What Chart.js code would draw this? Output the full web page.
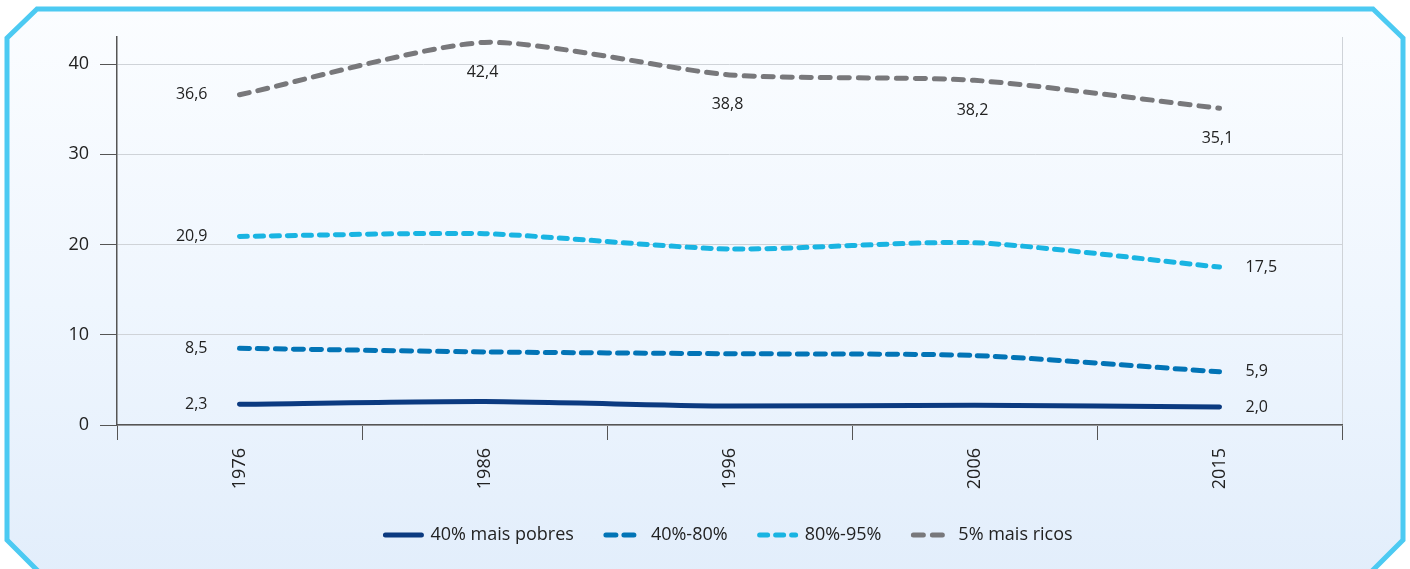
<!DOCTYPE html>
<html>
<head>
<meta charset="utf-8">
<script src="https://cdn.jsdelivr.net/npm/chart.js@4/dist/chart.umd.min.js"></script>
<style>
  html, body { margin: 0; padding: 0; background: #fff; }
  #wrap { position: relative; width: 1410px; height: 569px; overflow: hidden; }
  #frame { position: absolute; left: 0; top: 0; }
  #chart { position: absolute; left: 0; top: 0; }
</style>
</head>
<body>
<div id="wrap">
  <svg id="frame" width="1410" height="569">
    <defs>
      <linearGradient id="bg" x1="0" y1="0" x2="0" y2="1">
        <stop offset="0" stop-color="#fbfdff"/>
        <stop offset="0.5" stop-color="#eff6fe"/>
        <stop offset="1" stop-color="#e1edfb"/>
      </linearGradient>
    </defs>
    <polygon points="7,38 37,9 1373,9 1403,38 1403,540 1344,599 66,599 7,540"
             fill="url(#bg)" stroke="#4ccaf2" stroke-width="5" stroke-linejoin="miter"/>
  </svg>
  <canvas id="chart" width="1410" height="569"></canvas>
</div>
<script>
var years = ['1976', '1986', '1996', '2006', '2015'];
var seriesNames = ['40% mais pobres', '40%-80%', '80%-95%', '5% mais ricos'];
var pobres40 = [2.3, 2.6, 2.1, 2.2, 2.0];
var meio40a80 = [8.5, 8.1, 7.9, 7.7, 5.9];
var alto80a95 = [20.9, 21.2, 19.5, 20.2, 17.5];
var ricos5 = [36.6, 42.4, 38.8, 38.2, 35.1];
var yTicks = [0, 10, 20, 30, 40];

var FONT = "'Open Sans', 'Noto Sans', sans-serif";

// which points carry a value label, and where it sits
function labelSpots(n, all) {
    var spots = {};
    spots[0] = 'left';
    spots[n - 1] = all ? 'below' : 'right';
    if (all) {
        for (var i = 1; i < n; i++) spots[i] = 'below';
    }
    return spots;
}

var valueLabels = {
    id: 'valueLabels',
    afterDatasetsDraw: function (chart) {
        var ctx = chart.ctx;
        ctx.save();
        ctx.font = '16px ' + FONT;
        ctx.fillStyle = '#222';
        ctx.textBaseline = 'middle';
        chart.data.datasets.forEach(function (ds, di) {
            var meta = chart.getDatasetMeta(di);
            var spots = labelSpots(ds.data.length, ds.labelAll);
            meta.data.forEach(function (pt, i) {
                var where = spots[i];
                if (!where) return;
                var txt = ds.data[i].toFixed(1).replace('.', ',');
                if (where === 'left') {
                    ctx.textAlign = 'right';
                    ctx.fillText(txt, pt.x - 32, pt.y);
                } else if (where === 'right') {
                    ctx.textAlign = 'left';
                    ctx.fillText(txt, pt.x + 26, pt.y);
                } else {
                    ctx.textAlign = 'center';
                    ctx.fillText(txt, pt.x - 2, pt.y + 30);
                }
            });
        });
        ctx.restore();
    }
};

function makeSet(label, data, color, dash, labelAll) {
    return {
        label: label,
        data: data,
        borderColor: color,
        backgroundColor: color,
        borderWidth: 5,
        borderDash: dash,
        borderCapStyle: 'round',
        borderJoinStyle: 'round',
        pointRadius: 0,
        pointHoverRadius: 0,
        tension: 0.22,
        fill: false,
        labelAll: labelAll
    };
}

var ctx = document.getElementById('chart').getContext('2d');
new Chart(ctx, {
    type: 'line',
    data: {
        labels: years,
        datasets: [
            makeSet(seriesNames[0], pobres40, '#0b3a80', [], false),
            makeSet(seriesNames[1], meio40a80, '#0274b6', [10, 8], false),
            makeSet(seriesNames[2], alto80a95, '#19b4e2', [8, 8], false),
            makeSet(seriesNames[3], ricos5, '#78787b', [10, 9], true)
        ]
    },
    plugins: [valueLabels],
    options: {
        responsive: false,
        animation: false,
        events: [],
        layout: { padding: { left: 48, right: 0, top: 37, bottom: 15 } },
        plugins: {
            tooltip: { enabled: false },
            legend: {
                position: 'bottom',
                labels: {
                    usePointStyle: true,
                    pointStyle: 'line',
                    pointStyleWidth: 36,
                    padding: 32,
                    color: '#222',
                    font: { family: FONT, size: 18 },
                    generateLabels: function (chart) {
                        var items = Chart.defaults.plugins.legend.labels.generateLabels(chart);
                        items.forEach(function (it) {
                            var ds = chart.data.datasets[it.datasetIndex];
                            it.lineDash = ds.borderDash;
                            it.lineCap = 'round';
                            it.lineWidth = ds.borderWidth;
                            it.strokeStyle = ds.borderColor;
                        });
                        return items;
                    }
                }
            }
        },
        scales: {
            x: {
                offset: true,
                grid: {
                    offset: true,
                    drawOnChartArea: true,
                    color: function (c) { return c.type === 'scale' ? '#cfd3d8' : 'rgba(0,0,0,0)'; },
                    tickColor: '#555',
                    tickLength: 15,
                    lineWidth: 1
                },
                border: { color: '#555', width: 1.5 },
                ticks: {
                    minRotation: 90,
                    maxRotation: 90,
                    padding: 8,
                    color: '#222',
                    font: { family: FONT, size: 18 }
                },
                afterFit: function (scale) { scale.height = 69; }
            },
            y: {
                min: 0,
                max: 43,
                grid: {
                    color: '#cfd3d8',
                    tickColor: '#555',
                    tickLength: 17,
                    lineWidth: 1
                },
                border: { color: '#555', width: 1.5 },
                ticks: {
                    padding: 11,
                    color: '#222',
                    font: { family: FONT, size: 18 }
                },
                afterBuildTicks: function (scale) {
                    scale.ticks = yTicks.map(function (v) { return { value: v }; });
                },
                afterFit: function (scale) { scale.width = 69; }
            },
            // empty spacer on the right so the legend centres under the plot
            yRight: {
                position: 'right',
                display: true,
                grid: { drawOnChartArea: false, drawTicks: false },
                border: { display: false },
                ticks: { display: false },
                afterFit: function (scale) { scale.width = 68; }
            }
        }
    }
});
</script>
</body>
</html>
